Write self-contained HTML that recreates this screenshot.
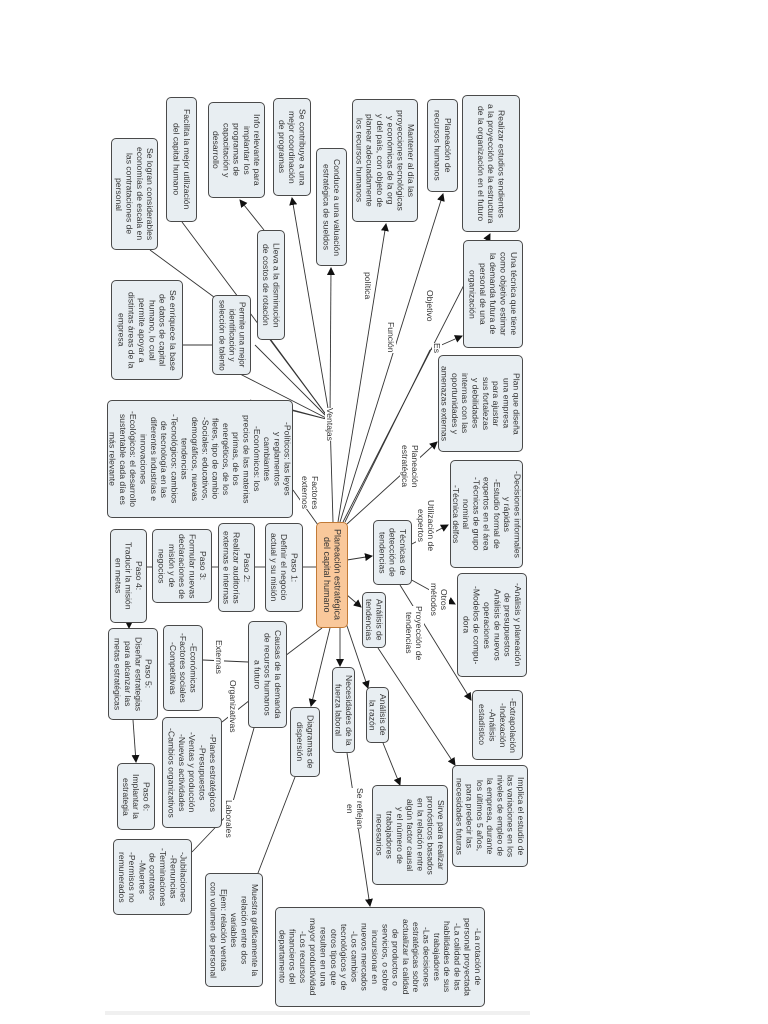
<!DOCTYPE html>
<html><head><meta charset="utf-8"><style>
body{margin:0;width:768px;height:1024px;background:#fff;position:relative;overflow:hidden;font-family:"Liberation Sans",sans-serif}
.b{position:absolute;writing-mode:vertical-rl;background:#e8eef2;border:1px solid #4a4a4a;border-radius:5px;font-size:8.6px;line-height:10.3px;color:#333;box-sizing:border-box;display:flex;flex-direction:column;justify-content:center;align-items:center;text-align:center;padding:3px 2px;white-space:nowrap}
.l{position:absolute;writing-mode:vertical-rl;font-size:8.6px;line-height:10px;color:#333;background:#fff;text-align:center;white-space:nowrap}
svg{position:absolute;left:0;top:0}
</style></head><body>
<svg width="768" height="1024">
<defs><marker id="a" markerWidth="8" markerHeight="8" refX="7" refY="4" orient="auto" markerUnits="userSpaceOnUse"><path d="M0,0 L8,4 L0,8 z" fill="#111"/></marker></defs>
<g stroke="#333" stroke-width="0.9" fill="none">
<line x1="333" y1="522" x2="330" y2="420"/>
<line x1="330" y1="420" x2="292" y2="198" marker-end="url(#a)"/>
<line x1="330" y1="420" x2="331" y2="268" marker-end="url(#a)"/>
<line x1="330" y1="420" x2="271" y2="340"/>
<line x1="264" y1="230" x2="240" y2="200" marker-end="url(#a)"/>
<line x1="330" y1="420" x2="182" y2="222"/>
<line x1="330" y1="420" x2="240" y2="374"/>
<line x1="330" y1="420" x2="255" y2="345"/>
<line x1="218" y1="300" x2="150" y2="250"/>
<line x1="212" y1="345" x2="183" y2="345"/>
<line x1="330" y1="420" x2="250" y2="400"/>
<line x1="330" y1="420" x2="293" y2="410"/>
<line x1="338" y1="522" x2="386" y2="224" marker-end="url(#a)"/>
<line x1="340" y1="522" x2="443" y2="194" marker-end="url(#a)"/>
<line x1="343" y1="522" x2="490" y2="234" marker-end="url(#a)"/>
<line x1="345" y1="522" x2="430" y2="350"/>
<line x1="430" y1="350" x2="462" y2="336" marker-end="url(#a)"/>
<line x1="347" y1="524" x2="437" y2="442" marker-end="url(#a)"/>
<line x1="318" y1="525" x2="293" y2="490"/>
<line x1="347" y1="560" x2="372" y2="556" marker-end="url(#a)"/>
<line x1="410" y1="545" x2="448" y2="525" marker-end="url(#a)"/>
<line x1="408" y1="578" x2="455" y2="604" marker-end="url(#a)"/>
<line x1="400" y1="585" x2="471" y2="700" marker-end="url(#a)"/>
<line x1="347" y1="595" x2="361" y2="607" marker-end="url(#a)"/>
<line x1="378" y1="648" x2="455" y2="765" marker-end="url(#a)"/>
<line x1="345" y1="620" x2="368" y2="688" marker-end="url(#a)"/>
<line x1="383" y1="743" x2="400" y2="785" marker-end="url(#a)"/>
<line x1="340" y1="628" x2="340" y2="666" marker-end="url(#a)"/>
<line x1="347" y1="753" x2="370" y2="906" marker-end="url(#a)"/>
<line x1="330" y1="628" x2="311" y2="706" marker-end="url(#a)"/>
<line x1="295" y1="777" x2="258" y2="873"/>
<line x1="322" y1="628" x2="285" y2="656"/>
<line x1="248" y1="662" x2="203" y2="660"/>
<line x1="250" y1="700" x2="222" y2="722"/>
<line x1="254" y1="728" x2="230" y2="812"/>
<line x1="230" y1="812" x2="192" y2="852"/>
<line x1="316" y1="567" x2="303" y2="567"/>
<line x1="265" y1="567" x2="255" y2="567"/>
<line x1="218" y1="567" x2="212" y2="567"/>
<line x1="152" y1="567" x2="147" y2="567"/>
<line x1="129" y1="623" x2="129" y2="628" marker-end="url(#a)"/>
<line x1="133" y1="720" x2="136" y2="762" marker-end="url(#a)"/>
</g>
<rect x="105" y="1011" width="425" height="4" fill="#f0f0f0"/>
</svg>

<div class="b" style="left:462px;top:95px;width:58px;height:137px">Realizar estudios tendientes<br>a la proyección de la estructura<br>de la organización en el futuro</div>
<div class="b" style="left:427px;top:99px;width:31px;height:93px">Planeación de<br>recursos humanos</div>
<div class="b" style="left:352px;top:99px;width:66px;height:123px">Mantener al día las<br>proyecciones tecnológicas<br>y económicas de la org<br>y del país, con objeto de<br>planear adecuadamente<br>los recursos humanos</div>
<div class="b" style="left:316px;top:148px;width:31px;height:118px">Conduce a una valuación<br>estratégica de sueldos</div>
<div class="b" style="left:273px;top:98px;width:38px;height:98px">Se contribuye a una<br>mejor coordinación<br>de programas</div>
<div class="b" style="left:208px;top:102px;width:57px;height:96px">Info relevante para<br>implantar los<br>programas de<br>capacitación y<br>desarrollo</div>
<div class="b" style="left:166px;top:97px;width:31px;height:125px">Facilita la mejor utilización<br>del capital humano</div>
<div class="b" style="left:111px;top:138px;width:47px;height:112px">Se logran considerables<br>economías de escala en<br>las contrataciones de<br>personal</div>
<div class="b" style="left:257px;top:230px;width:28px;height:110px">Lleva a la disminución<br>de costos de rotación</div>
<div class="b" style="left:212px;top:295px;width:39px;height:80px;font-size:8px;line-height:10px">Permite una mejor<br>identificación y<br>selección de talento</div>
<div class="b" style="left:111px;top:280px;width:72px;height:100px">Se enriquece la base<br>de datos de capital<br>humano, lo cual<br>permite apoyar a<br>distintas áreas de la<br>empresa</div>
<div class="b" style="left:463px;top:240px;width:60px;height:108px">Una técnica que tiene<br>como objetivo estimar<br>la demanda futura de<br>personal de una<br>organización</div>
<div class="b" style="left:438px;top:355px;width:85px;height:97px">Plan que diseña<br>una empresa<br>para ajustar<br>sus fortalezas<br>y debilidades<br>internas con las<br>oportunidades y<br>amenazas externas</div>
<div class="b" style="left:107px;top:400px;width:186px;height:118px">-Políticos: las leyes<br>y reglamentos<br>cambiantes<br>-Económicos: los<br>precios de las materias<br>primas, de los<br>energéticos, de los<br>fletes, tipo de cambio<br>-Sociales: educativos,<br>demográficos, nuevas<br>tendencias<br>-Tecnológicos: cambios<br>de tecnología en las<br>diferentes industrias e<br>innovaciones<br>-Ecológicos: el desarrollo<br>sustentable cada día es<br>más relevante</div>
<div class="b" style="left:450px;top:460px;width:73px;height:108px">-Decisiones informales<br>y rápidas<br>-Estudio formal de<br>expertos en el área<br>-Técnicas de grupo<br>nominal<br>-Técnica delfos</div>
<div class="b" style="left:373px;top:520px;width:39px;height:65px">Técnicas de<br>detección de<br>tendencias</div>
<div class="b" style="left:316px;top:522px;width:32px;height:106px;background:#f9c89b;border-color:#c27a36;font-size:9px">Planeación estratégica<br>del capital humano</div>
<div class="b" style="left:265px;top:523px;width:38px;height:89px">Paso 1:<br>Definir el negocio<br>actual y su misión</div>
<div class="b" style="left:218px;top:523px;width:37px;height:89px">Paso 2:<br>Realizar auditorías<br>externas e internas</div>
<div class="b" style="left:152px;top:529px;width:60px;height:74px">Paso 3:<br>Formular nuevas<br>declaraciones de<br>misión y de<br>negocios</div>
<div class="b" style="left:110px;top:529px;width:37px;height:94px">Paso 4:<br>Traducir la misión<br>en metas</div>
<div class="b" style="left:457px;top:573px;width:70px;height:104px">-Análisis y planeación<br>de presupuestos<br>Análisis de nuevos<br>operaciones<br>-Modelos de compu-<br>dora</div>
<div class="b" style="left:362px;top:592px;width:24px;height:56px">Análisis de<br>tendencias</div>
<div class="b" style="left:472px;top:690px;width:51px;height:70px">-Extrapolación<br>-Indexación<br>-Análisis<br>estadístico</div>
<div class="b" style="left:366px;top:687px;width:23px;height:56px">Análisis de<br>la razón</div>
<div class="b" style="left:332px;top:667px;width:23px;height:86px">Necesidades de la<br>fuerza laboral</div>
<div class="b" style="left:452px;top:765px;width:76px;height:102px">Implica el estudio de<br>las variaciones en los<br>niveles de empleo de<br>la empresa, durante<br>los últimos 5 años,<br>para predecir las<br>necesidades futuras</div>
<div class="b" style="left:372px;top:785px;width:76px;height:100px">Sirve para realizar<br>pronósticos basados<br>en la relación entre<br>algún factor causal<br>y el número de<br>trabajadores<br>necesarios</div>
<div class="b" style="left:275px;top:907px;width:210px;height:100px">-La rotación de<br>personal proyectada<br>-La calidad de las<br>habilidades de sus<br>trabajadores<br>-Las decisiones<br>estratégicas sobre<br>actualizar la calidad<br>de productos o<br>servicios, o sobre<br>incursionar en<br>nuevos mercados<br>-Los cambios<br>tecnológicos y de<br>otros tipos que<br>resulten en una<br>mayor productividad<br>-Los recursos<br>financieros del<br>departamento</div>
<div class="b" style="left:205px;top:873px;width:58px;height:114px">Muestra gráficamente la<br>relación entre dos<br>variables<br>Ejem: relación ventas<br>con volumen de personal</div>
<div class="b" style="left:290px;top:707px;width:30px;height:70px">Diagramas de<br>dispersión</div>
<div class="b" style="left:248px;top:621px;width:39px;height:107px">Causas de la demanda<br>de recursos humanos<br>a futuro</div>
<div class="b" style="left:163px;top:625px;width:40px;height:86px">-Económicas<br>-Factores sociales<br>-Competitivas</div>
<div class="b" style="left:162px;top:717px;width:60px;height:111px">-Planes estratégicos<br>-Presupuestos<br>-Ventas y producción<br>-Nuevas actividades<br>-Cambios organizativos</div>
<div class="b" style="left:108px;top:628px;width:50px;height:92px">Paso 5:<br>Diseñar estrategias<br>para alcanzar las<br>metas estratégicas</div>
<div class="b" style="left:117px;top:763px;width:38px;height:67px">Paso 6:<br>Implantar la<br>estrategia</div>
<div class="b" style="left:113px;top:839px;width:79px;height:76px">-Jubilaciones<br>-Renuncias<br>-Terminaciones<br>de contratos<br>-Muertes<br>-Permisos no<br>remunerados</div>

<div class="l" style="left:363px;top:272px">política</div>
<div class="l" style="left:386px;top:322px">Función</div>
<div class="l" style="left:425px;top:290px">Objetivo</div>
<div class="l" style="left:432px;top:343px">Es</div>
<div class="l" style="left:325px;top:408px">Ventajas</div>
<div class="l" style="left:300px;top:476px">Factores<br>externos</div>
<div class="l" style="left:400px;top:445px">Planeación<br>estratégica</div>
<div class="l" style="left:416px;top:500px">Utilización de<br>expertos</div>
<div class="l" style="left:429px;top:583px">Otros<br>métodos</div>
<div class="l" style="left:404px;top:606px">Proyección de<br>tendencias</div>
<div class="l" style="left:214px;top:640px">Externas</div>
<div class="l" style="left:228px;top:680px">Organizativas</div>
<div class="l" style="left:224px;top:800px">Laborales</div>
<div class="l" style="left:345px;top:788px">Se reflejan<br>en</div>
</body></html>
